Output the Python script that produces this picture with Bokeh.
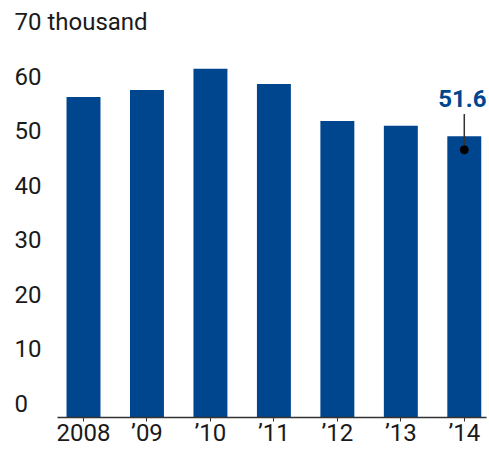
from bokeh.plotting import figure
from bokeh.models import Range1d, FixedTicker, Label, ColumnDataSource
from bokeh.embed import file_html
from bokeh.resources import INLINE

years = ["2008", "\u201909", "\u201910", "\u201911", "\u201912", "\u201913", "\u201914"]
values = [58.8, 60.1, 64.0, 61.2, 54.4, 53.5, 51.6]
y_ticks = [0, 10, 20, 30, 40, 50, 60, 70]
y_tick_labels = ["0", "10", "20", "30", "40", "50", "60", "70 thousand"]
highlight_label = "51.6"

BLUE = "#00468f"
FONT = "Roboto"
FS = "24px"

xs = list(range(len(years)))
p = figure(width=489, height=449, output_backend="svg", toolbar_location=None,
           x_range=Range1d(-1.308, 6.35), y_range=Range1d(0, 76.5),
           min_border_left=0, min_border_right=3, min_border_top=0, min_border_bottom=30)
p.outline_line_color = None
p.xgrid.visible = False
p.ygrid.visible = False
p.yaxis.visible = False

src = ColumnDataSource(dict(x=xs, top=values))
p.vbar(x="x", top="top", width=0.535, bottom=0, source=src, fill_color=BLUE, line_color=None)

xa = p.xaxis[0]
xa.bounds = (-0.41, 6.35)
xa.ticker = FixedTicker(ticks=xs)
xa.major_label_overrides = {i: y for i, y in enumerate(years)}
xa.axis_line_color = "#333333"
xa.axis_line_width = 1.5
xa.major_tick_line_color = "#333333"
xa.major_tick_out = 4
xa.major_tick_in = 0
xa.minor_tick_line_color = None
xa.major_label_text_font = FONT
xa.major_label_text_font_size = FS
xa.major_label_text_color = "#1a1a1a"
xa.major_label_standoff = -3

for v, t in zip(y_ticks, y_tick_labels):
    p.add_layout(Label(x=14, y=v, x_units="screen", y_units="data", text=t,
                       text_font=FONT, text_font_size=FS, text_color="#1a1a1a",
                       text_align="left", text_baseline="middle", y_offset=14))

# highlight annotation on last bar
last = len(values) - 1
lv = values[last]
p.segment(x0=[last], y0=[lv - 2.5], x1=[last], y1=[lv + 4.1], line_color="#333333", line_width=1.5)
p.scatter(x=[last], y=[lv - 2.5], size=8, fill_color="black", line_color="black")
p.add_layout(Label(x=last, y=lv + 4.1, text=highlight_label, text_font=FONT,
                   text_font_size=FS, text_font_style="bold", text_color=BLUE,
                   text_align="center", text_baseline="alphabetic", x_offset=-2, y_offset=15))

open("out.html", "w").write(file_html(p, INLINE))
